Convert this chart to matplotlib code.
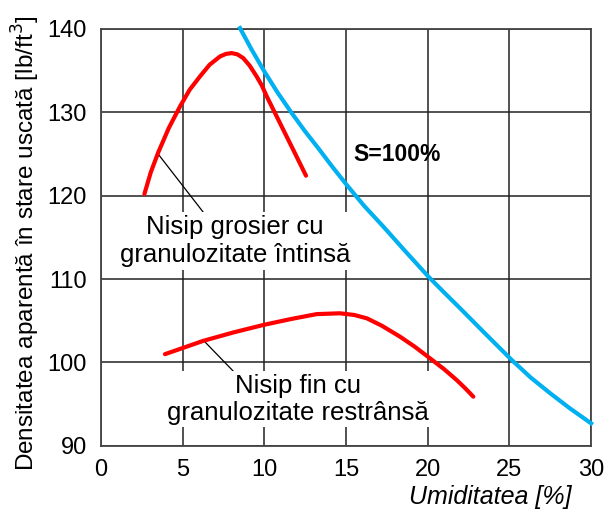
import matplotlib
matplotlib.use("Agg")
import matplotlib.pyplot as plt

# coarse sand, well graded
coarse_w = [2.66, 3.05, 3.51, 4.15, 4.84, 5.43, 6.06, 6.65, 7.29, 7.65, 8.0, 8.35, 8.71, 9.1, 9.53, 9.85,
			10.15, 10.96, 11.77, 12.55]
coarse_d = [120.2, 122.8, 125.2, 128.1, 130.7, 132.7, 134.3, 135.7, 136.7, 137.0, 137.1, 136.95, 136.5, 135.6, 134.3, 133.2,
			131.9, 128.7, 125.5, 122.4]

# fine sand, poorly graded
fine_w = [3.92, 5.1, 6.27, 8.1, 9.94, 11.6, 13.2, 14.63, 15.5, 16.27, 17.2, 18.3, 19.2, 20.14, 21.0, 21.77, 22.3, 22.79]
fine_d = [101.0, 101.8, 102.6, 103.6, 104.5, 105.2, 105.8, 105.9, 105.7, 105.3, 104.4, 103.1, 101.9, 100.5, 99.2, 97.9, 96.9, 95.9]

# saturation line S = 100 %
sat_w = [8.51, 9.2, 10.0, 10.8, 11.68, 12.5, 13.3, 14.15, 15.04, 16.1, 17.28, 18.6, 20.04, 21.0, 21.98, 23.5,
		 25.14, 26.3, 27.5, 28.7, 30.0]
sat_d = [140.1, 137.6, 134.9, 132.4, 129.9, 127.7, 125.7, 123.5, 121.3, 118.8, 116.3, 113.4, 110.3, 108.4, 106.5, 103.5,
		 100.3, 98.2, 96.3, 94.5, 92.7]

xticks = [0, 5, 10, 15, 20, 25, 30]
yticks = [90, 100, 110, 120, 130, 140]

plt.rcParams['font.family'] = ['Liberation Sans', 'DejaVu Sans']

fig = plt.figure(figsize=(6.04, 5.18), dpi=100)
ax = fig.add_axes([0.1671, 0.1392, 0.8116, 0.805])

ax.set_xlim(0, 30)
ax.set_ylim(90, 140)
ax.set_xticks(xticks)
ax.set_yticks(yticks)
ax.tick_params(length=0, labelsize=17)
ax.tick_params(axis='x', pad=9.5)
ax.tick_params(axis='y', pad=10)
ax.grid(True, color='#222222', lw=1.1)
ax.set_axisbelow(True)
for sp in ax.spines.values():
	sp.set_color('#444444')
	sp.set_linewidth(1.3)

box = dict(facecolor='white', edgecolor='none', pad=2)
ax.text(8.2, 114.6, 'Nisip grosier cu\ngranulozitate întinsă', ha='center', va='center',
		fontsize=18.5, linespacing=1.22, bbox=box, zorder=3)
ax.text(12.04, 95.6, 'Nisip fin cu\ngranulozitate restrânsă', ha='center', va='center',
		fontsize=18.5, linespacing=1.15, bbox=box, zorder=3)
ax.text(15.43, 124.9, 'S=100%', ha='left', va='center', fontsize=16.5, fontweight='bold', zorder=3)

ax.plot([3.5, 6.31], [125.0, 117.9], color='black', lw=0.9, zorder=2.5)
ax.plot([6.3, 8.08], [102.6, 99.0], color='black', lw=0.9, zorder=2.5)

ax.plot(coarse_w, coarse_d, color='#ff0000', lw=3.0, solid_capstyle='round', zorder=5)
ax.plot(fine_w, fine_d, color='#ff0000', lw=3.0, solid_capstyle='round', zorder=5)
ax.plot(sat_w, sat_d, color='#00b0f0', lw=3.0, zorder=5, clip_on=False)

ax.set_ylabel('Densitatea aparentă în stare uscată [lb/ft$^3$]', fontsize=17.5)
ax.yaxis.set_label_coords(-0.12, 0.486)
fig.text(572 / 604, 1 - 497 / 518, 'Umiditatea [%]', ha='right', va='center',
		 fontsize=18, style='italic')

plt.savefig('out.png', dpi=100)
